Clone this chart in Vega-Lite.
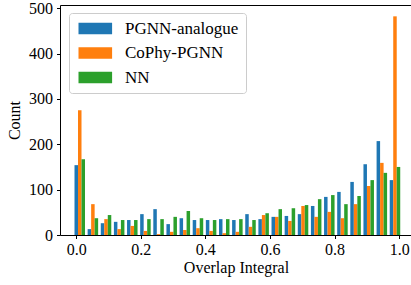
{
  "$schema": "https://vega.github.io/schema/vega-lite/v6.json",
  "width": 352,
  "height": 230,
  "autosize": {"type": "none"},
  "padding": {"left": 60, "top": 5, "right": 0, "bottom": 50},
  "config": {
    "font": "Liberation Serif",
    "view": {"stroke": "black", "strokeWidth": 1},
    "axis": {
      "labelFont": "Liberation Serif",
      "titleFont": "Liberation Serif",
      "labelFontSize": 16,
      "titleFontSize": 16,
      "labelColor": "black",
      "titleColor": "black",
      "titleFontWeight": "normal",
      "tickColor": "black",
      "tickSize": 3.5,
      "tickWidth": 1,
      "grid": false,
      "domain": false
    }
  },
  "datasets": {
    "hist": [
      {"bin": 0, "series": "PGNN-analogue", "count": 154}, {"bin": 0, "series": "CoPhy-PGNN", "count": 275}, {"bin": 0, "series": "NN", "count": 167},
      {"bin": 1, "series": "PGNN-analogue", "count": 13}, {"bin": 1, "series": "CoPhy-PGNN", "count": 68}, {"bin": 1, "series": "NN", "count": 37},
      {"bin": 2, "series": "PGNN-analogue", "count": 26}, {"bin": 2, "series": "CoPhy-PGNN", "count": 35}, {"bin": 2, "series": "NN", "count": 44},
      {"bin": 3, "series": "PGNN-analogue", "count": 29}, {"bin": 3, "series": "CoPhy-PGNN", "count": 13}, {"bin": 3, "series": "NN", "count": 33},
      {"bin": 4, "series": "PGNN-analogue", "count": 33}, {"bin": 4, "series": "CoPhy-PGNN", "count": 20}, {"bin": 4, "series": "NN", "count": 33},
      {"bin": 5, "series": "PGNN-analogue", "count": 46}, {"bin": 5, "series": "CoPhy-PGNN", "count": 9}, {"bin": 5, "series": "NN", "count": 35},
      {"bin": 6, "series": "PGNN-analogue", "count": 57}, {"bin": 6, "series": "CoPhy-PGNN", "count": 2}, {"bin": 6, "series": "NN", "count": 35},
      {"bin": 7, "series": "PGNN-analogue", "count": 24}, {"bin": 7, "series": "CoPhy-PGNN", "count": 7}, {"bin": 7, "series": "NN", "count": 40},
      {"bin": 8, "series": "PGNN-analogue", "count": 37}, {"bin": 8, "series": "CoPhy-PGNN", "count": 11}, {"bin": 8, "series": "NN", "count": 53},
      {"bin": 9, "series": "PGNN-analogue", "count": 33}, {"bin": 9, "series": "CoPhy-PGNN", "count": 15}, {"bin": 9, "series": "NN", "count": 37},
      {"bin": 10, "series": "PGNN-analogue", "count": 33}, {"bin": 10, "series": "CoPhy-PGNN", "count": 9}, {"bin": 10, "series": "NN", "count": 33},
      {"bin": 11, "series": "PGNN-analogue", "count": 35}, {"bin": 11, "series": "CoPhy-PGNN", "count": 4}, {"bin": 11, "series": "NN", "count": 35},
      {"bin": 12, "series": "PGNN-analogue", "count": 33}, {"bin": 12, "series": "CoPhy-PGNN", "count": 7}, {"bin": 12, "series": "NN", "count": 35},
      {"bin": 13, "series": "PGNN-analogue", "count": 46}, {"bin": 13, "series": "CoPhy-PGNN", "count": 18}, {"bin": 13, "series": "NN", "count": 33},
      {"bin": 14, "series": "PGNN-analogue", "count": 35}, {"bin": 14, "series": "CoPhy-PGNN", "count": 44}, {"bin": 14, "series": "NN", "count": 48},
      {"bin": 15, "series": "PGNN-analogue", "count": 40}, {"bin": 15, "series": "CoPhy-PGNN", "count": 40}, {"bin": 15, "series": "NN", "count": 57},
      {"bin": 16, "series": "PGNN-analogue", "count": 42}, {"bin": 16, "series": "CoPhy-PGNN", "count": 31}, {"bin": 16, "series": "NN", "count": 59},
      {"bin": 17, "series": "PGNN-analogue", "count": 46}, {"bin": 17, "series": "CoPhy-PGNN", "count": 64}, {"bin": 17, "series": "NN", "count": 66},
      {"bin": 18, "series": "PGNN-analogue", "count": 64}, {"bin": 18, "series": "CoPhy-PGNN", "count": 40}, {"bin": 18, "series": "NN", "count": 79},
      {"bin": 19, "series": "PGNN-analogue", "count": 84}, {"bin": 19, "series": "CoPhy-PGNN", "count": 51}, {"bin": 19, "series": "NN", "count": 88},
      {"bin": 20, "series": "PGNN-analogue", "count": 95}, {"bin": 20, "series": "CoPhy-PGNN", "count": 37}, {"bin": 20, "series": "NN", "count": 68},
      {"bin": 21, "series": "PGNN-analogue", "count": 117}, {"bin": 21, "series": "CoPhy-PGNN", "count": 68}, {"bin": 21, "series": "NN", "count": 86},
      {"bin": 22, "series": "PGNN-analogue", "count": 156}, {"bin": 22, "series": "CoPhy-PGNN", "count": 108}, {"bin": 22, "series": "NN", "count": 121},
      {"bin": 23, "series": "PGNN-analogue", "count": 207}, {"bin": 23, "series": "CoPhy-PGNN", "count": 159}, {"bin": 23, "series": "NN", "count": 137},
      {"bin": 24, "series": "PGNN-analogue", "count": 121}, {"bin": 24, "series": "CoPhy-PGNN", "count": 482}, {"bin": 24, "series": "NN", "count": 150}
    ],
    "xaxis": [{"v": 0}, {"v": 1}]
  },
  "layer": [
    {
      "data": {"name": "hist"},
      "mark": {"type": "bar"},
      "encoding": {
        "x": {
          "field": "bin",
          "type": "ordinal",
          "axis": null,
          "scale": {"paddingInner": 0.2, "paddingOuter": 1.2225, "align": 0.552, "round": false}
        },
        "xOffset": {
          "field": "series",
          "type": "nominal",
          "sort": ["PGNN-analogue", "CoPhy-PGNN", "NN"],
          "scale": {"paddingInner": 0, "paddingOuter": 0, "round": false}
        },
        "y": {
          "field": "count",
          "type": "quantitative",
          "scale": {"domain": [0, 507], "nice": false},
          "axis": {"values": [0, 100, 200, 300, 400, 500], "title": "Count", "labelPadding": 4, "titlePadding": 6}
        },
        "color": {
          "field": "series",
          "type": "nominal",
          "scale": {"domain": ["PGNN-analogue", "CoPhy-PGNN", "NN"], "range": ["#1f77b4", "#ff7f0e", "#2ca02c"]},
          "legend": {
            "orient": "none",
            "legendX": 9,
            "legendY": 8,
            "title": null,
            "labelFont": "Liberation Serif",
            "labelFontSize": 17,
            "labelColor": "black",
            "symbolType": "M-1,-0.94H4.6V0.94H-1Z",
            "symbolSize": 144,
            "symbolStrokeWidth": 0,
            "symbolOpacity": 1,
            "labelOffset": 32,
            "rowPadding": 6.5,
            "padding": 7,
            "strokeColor": "#cccccc",
            "fillColor": "rgba(255,255,255,0.8)",
            "cornerRadius": 3
          }
        }
      }
    },
    {
      "data": {"name": "xaxis"},
      "mark": {"type": "point", "opacity": 0},
      "encoding": {
        "x": {
          "field": "v",
          "type": "quantitative",
          "scale": {"domain": [-0.05, 1.0398], "nice": false, "zero": false},
          "axis": {"orient": "bottom", "values": [0, 0.2, 0.4, 0.6, 0.8, 1.0], "format": ".1f", "title": "Overlap Integral", "labelPadding": 3, "titlePadding": 2}
        }
      }
    }
  ],
  "resolve": {"scale": {"x": "independent"}, "axis": {"x": "independent"}}
}
